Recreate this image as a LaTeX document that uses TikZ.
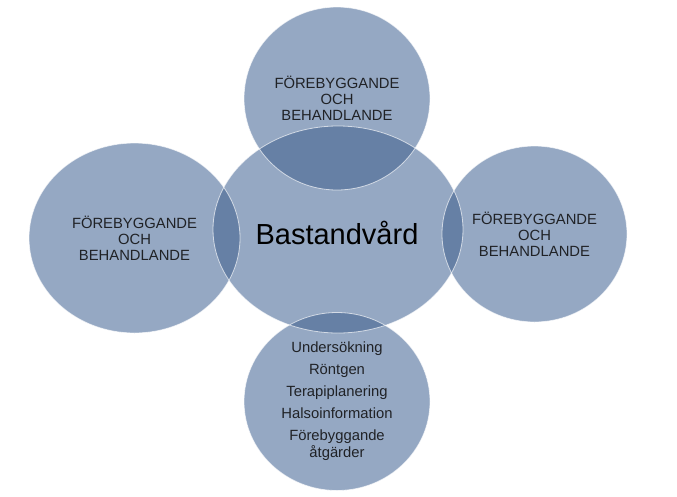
\documentclass[tikz,border=0pt]{standalone}
\usepackage{fontspec}
\setmainfont{Liberation Sans}
\usetikzlibrary{shapes.geometric}
\definecolor{bubblefill}{RGB}{149,168,195}
\definecolor{lensfill}{RGB}{102,128,165}
\definecolor{ink}{RGB}{32,34,38}
\begin{document}
\begin{tikzpicture}[x=1pt,y=-1pt,
  bubble/.style={ellipse, inner sep=0pt, fill=bubblefill, text=ink, align=center,
    font=\fontsize{14.8}{16}\selectfont},
  rim/.style={draw=white, draw opacity=0.65, line width=0.8pt}]
\useasboundingbox (0,0) rectangle (677,496);
% bubbles
\node[bubble, minimum width=250pt, minimum height=207pt] (mid) at (338,229.5) {};
\node[bubble, minimum width=186pt, minimum height=183pt] (top) at (337,98.5)
  {FÖREBYGGANDE\\OCH\\BEHANDLANDE};
\node[bubble, minimum width=211pt, minimum height=190pt] (left) at (134.5,238)
  {FÖREBYGGANDE\\OCH\\BEHANDLANDE};
\node[bubble, minimum width=185pt, minimum height=176pt] (right) at (534.5,234)
  {FÖREBYGGANDE\\OCH\\BEHANDLANDE};
\node[bubble, minimum width=186pt, minimum height=178pt,
  font=\fontsize{14.8}{17}\selectfont] (bot) at (337,401.5)
  {Undersökning\\[5pt]Röntgen\\[5pt]Terapiplanering\\[5pt]Halsoinformation\\[5pt]Förebyggande\\åtgärder};
% overlaps
\begin{scope}
  \clip (mid.center) ellipse [x radius=125pt, y radius=103.5pt];
  \fill[lensfill] (top.center) ellipse [x radius=93pt, y radius=91.5pt];
  \fill[lensfill] (left.center) ellipse [x radius=105.5pt, y radius=95pt];
  \fill[lensfill] (right.center) ellipse [x radius=92.5pt, y radius=88pt];
  \fill[lensfill] (bot.center) ellipse [x radius=93pt, y radius=89pt];
\end{scope}
% rims
\path[rim] (mid.center) ellipse [x radius=125pt, y radius=103.5pt];
\path[rim] (top.center) ellipse [x radius=93pt, y radius=91.5pt];
\path[rim] (left.center) ellipse [x radius=105.5pt, y radius=95pt];
\path[rim] (right.center) ellipse [x radius=92.5pt, y radius=88pt];
\path[rim] (bot.center) ellipse [x radius=93pt, y radius=89pt];
% title
\node[anchor=base, inner sep=0pt, text=black, font=\fontsize{29}{32}\selectfont] (title) at (337,244) {Bastandvård};
\end{tikzpicture}
\end{document}
